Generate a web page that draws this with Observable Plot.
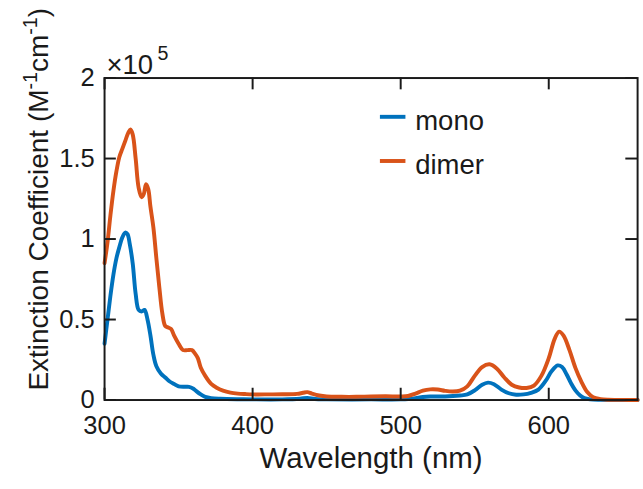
<!DOCTYPE html>
<html><head><meta charset="utf-8">
<script src="https://cdn.jsdelivr.net/npm/d3@7"></script>
<script src="https://cdn.jsdelivr.net/npm/@observablehq/plot@0.6"></script>
<style>
html,body{margin:0;padding:0;overflow:hidden;background:#fff;}
#chart{width:643px;height:489px;overflow:hidden;}
</style></head><body><div id="chart"></div>
<script>
// Values in units of 1e5 M^-1 cm^-1
const monoWavelength = [300,302,304,306,308,310,312,314,315.5,317,319,321,323,325,327,329,331,333,335,338,341,344,347,350,354,357,360,362,365,368,372,378,390,400,420,432,437,442,450,480,500,505,510,515,520,530,540,545,550,555,559,563,568,573,578,583,588,593,598,602,606,609,612,615,618,621,624,628,635,660];
const monoValues = [0.35,0.50,0.65,0.78,0.88,0.95,1.01,1.04,1.03,0.97,0.85,0.66,0.56,0.55,0.56,0.50,0.40,0.28,0.21,0.165,0.14,0.115,0.10,0.085,0.082,0.082,0.07,0.055,0.035,0.02,0.012,0.008,0.005,0.004,0.004,0.008,0.013,0.006,0.004,0.004,0.004,0.006,0.012,0.019,0.022,0.022,0.028,0.035,0.06,0.095,0.108,0.098,0.065,0.042,0.033,0.035,0.045,0.065,0.12,0.18,0.215,0.205,0.16,0.105,0.06,0.03,0.012,0.004,0.001,0];
const dimerWavelength = [300,302,304,306,308,310,312,314,316,317.5,319,321,323,325,326.5,328,329.5,331,333,335,337,339,341,343,345,347,350,353,356,359,361,363,365,368,372,376,380,385,390,395,400,410,420,430,434,437,440,445,450,460,470,480,490,500,505,510,515,520,525,530,535,540,545,550,555,560,565,570,575,580,585,590,595,600,604,607,610,614,618,622,626,630,635,640,650,660];
const dimerValues = [0.85,0.98,1.15,1.30,1.42,1.51,1.56,1.61,1.66,1.68,1.65,1.50,1.32,1.26,1.28,1.34,1.31,1.20,1.07,0.88,0.70,0.54,0.46,0.45,0.44,0.40,0.35,0.31,0.31,0.31,0.29,0.26,0.20,0.15,0.10,0.075,0.058,0.046,0.040,0.037,0.035,0.035,0.036,0.038,0.045,0.049,0.04,0.028,0.022,0.02,0.02,0.022,0.023,0.022,0.025,0.04,0.058,0.066,0.065,0.057,0.053,0.058,0.085,0.15,0.205,0.222,0.195,0.14,0.095,0.078,0.075,0.09,0.15,0.26,0.38,0.425,0.40,0.31,0.2,0.115,0.05,0.018,0.006,0.002,0.001,0];
const seriesNames = ["mono", "dimer"];
const seriesColors = ["#0072BD", "#D95319"];
const xTicks = [300, 400, 500, 600];
const yTicks = [0, 0.5, 1, 1.5, 2];
const yTickLabels = ["0", "0.5", "1", "1.5", "2"];
const xLabel = "Wavelength (nm)";
const exponentBase = "×10";
const exponentPower = "5";

const monoRows = monoWavelength.map((x, i) => ({x, y: monoValues[i]}));
const dimerRows = dimerWavelength.map((x, i) => ({x, y: dimerValues[i]}));

const W = 655, H = 489, mL = 106, mR = 6, mT = 79, mB = 82;
const fw = W - mL - mR, fh = H - mT - mB, tl = 12;
const font = "'Liberation Sans', Arial, Helvetica, sans-serif";
const ink = "#1a1a1a";

const chart = Plot.plot({
  width: W, height: H,
  marginLeft: mL, marginRight: mR, marginTop: mT, marginBottom: mB,
  style: {fontFamily: font, color: ink, background: "#fff", overflow: "visible"},
  x: {domain: [300, 660]},
  y: {domain: [0, 2]},
  marks: [
    Plot.line(monoRows, {x: "x", y: "y", stroke: seriesColors[0], strokeWidth: 4, curve: "catmull-rom"}),
    Plot.line(dimerRows, {x: "x", y: "y", stroke: seriesColors[1], strokeWidth: 4, curve: "catmull-rom"}),
    Plot.frame({stroke: ink, strokeWidth: 2}),
    Plot.tickX(xTicks, {x: d => d, insetTop: fh - tl, stroke: ink, strokeWidth: 2}),
    Plot.tickX(xTicks, {x: d => d, insetBottom: fh - tl, stroke: ink, strokeWidth: 2}),
    Plot.tickY(yTicks, {y: d => d, insetRight: fw - tl, stroke: ink, strokeWidth: 2}),
    Plot.tickY(yTicks, {y: d => d, insetLeft: fw - tl, stroke: ink, strokeWidth: 2}),
    Plot.axisX({ticks: xTicks, tickSize: 0, tickPadding: 16, fontSize: 26, label: null, tickFormat: d => String(d)}),
    Plot.axisY({ticks: yTicks, tickSize: 0, tickPadding: 10, fontSize: 26, label: null, tickFormat: d => yTickLabels[yTicks.indexOf(d)]}),
    Plot.text([xLabel], {frameAnchor: "bottom", dy: 69, fontSize: 30, fill: ink}),
    Plot.text([exponentBase], {frameAnchor: "top-left", textAnchor: "start", lineAnchor: "bottom", dx: 2, dy: -4, fontSize: 28, fill: ink}),
    Plot.text([exponentPower], {frameAnchor: "top-left", textAnchor: "start", lineAnchor: "bottom", dx: 54, dy: -18, fontSize: 20, fill: ink})
  ]
});
document.getElementById("chart").appendChild(chart);

const svg = d3.select(chart);
// Y axis label with superscripts
const yl = svg.append("text")
  .attr("transform", "translate(49,203) rotate(-90)")
  .attr("text-anchor", "middle")
  .attr("font-family", font).attr("font-size", 28.5).attr("fill", ink);
yl.append("tspan").text("Extinction Coefficient (M");
yl.append("tspan").attr("font-size", 20).attr("dy", -11).text("-1");
yl.append("tspan").attr("dy", 11).text("cm");
yl.append("tspan").attr("font-size", 20).attr("dy", -11).text("-1");
yl.append("tspan").attr("dy", 11).text(")");

// Legend
const legendY = [119, 164];
seriesNames.forEach((name, i) => {
  svg.append("line").attr("x1", 387).attr("x2", 413).attr("y1", legendY[i]).attr("y2", legendY[i])
    .attr("stroke", seriesColors[i]).attr("stroke-width", 4);
  svg.append("text").attr("x", 423).attr("y", legendY[i] + 13)
    .attr("text-anchor", "start")
    .attr("font-family", font).attr("font-size", 28).attr("fill", ink).text(name);
});
</script></body></html>
